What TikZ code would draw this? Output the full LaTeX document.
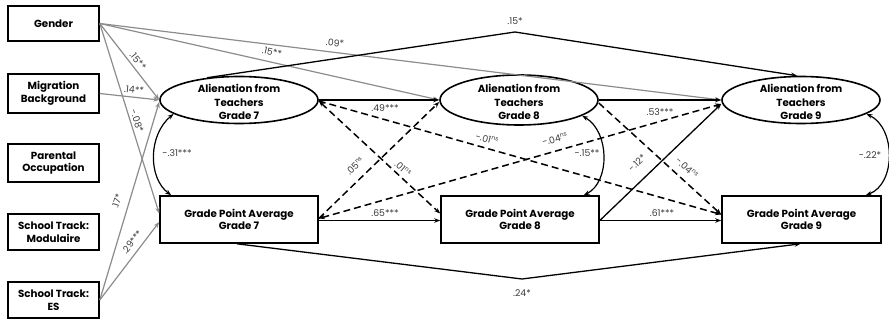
\documentclass[tikz,border=0pt]{standalone}
\usepackage{fontspec}
\setmainfont{Poppins}
\usetikzlibrary{arrows.meta,calc,shapes.geometric}
\definecolor{covgray}{HTML}{8C8C8C}
\definecolor{labgray}{HTML}{3A3A3A}
\tikzset{
  box/.style={draw, line width=1.6pt, fill=white, inner sep=1pt, align=center,
    font=\bfseries\fontsize{10.3}{12.8}\selectfont},
  gpabox/.style={box, minimum width=158pt, minimum height=47pt},
  lvbox/.style={draw, line width=1.6pt, fill=white, ellipse, inner sep=0pt,
    minimum width=158pt, minimum height=47pt},
  lvtext/.style={align=center, inner sep=0pt, font=\bfseries\fontsize{10.3}{13.5}\selectfont},
  arr/.style={-{Stealth[length=6pt,width=4.5pt]}},
  grayline/.style={arr, draw=covgray, line width=1.2pt},
  solidline/.style={arr, draw=black, line width=1.3pt},
  dashline/.style={arr, draw=black, line width=1.5pt, dash pattern=on 7pt off 4pt},
  dashboth/.style={dashline, {Stealth[length=6pt,width=4.5pt]}-{Stealth[length=6pt,width=4.5pt]}},
  covline/.style={{Stealth[length=6pt,width=4.5pt]}-{Stealth[length=6pt,width=4.5pt]}, draw=black, line width=1.2pt},
  lab/.style={text=labgray, inner sep=0.3pt, font=\fontsize{9.3}{9.5}\selectfont},
}
\newcommand{\nsx}{\textsuperscript{\fontsize{6}{6}\selectfont ns}}
\begin{document}
\begin{tikzpicture}[x=1pt,y=-1pt]
\useasboundingbox (0,0) rectangle (889,323);
% covariate boxes
\node[box, minimum width=91pt, minimum height=35pt] (gender) at (53.5,23.5) {Gender};
\node[box, minimum width=91pt, minimum height=39pt] (migr) at (53.5,93.5) {Migration\\Background};
\node[box, minimum width=91pt, minimum height=38pt] (parent) at (53.5,163) {Parental\\Occupation};
\node[box, minimum width=91pt, minimum height=36pt] (modul) at (53.5,232) {School Track:\\Modulaire};
\node[box, minimum width=91pt, minimum height=36pt] (es) at (53.5,300) {School Track:\\ES};
% latent alienation
\node[lvbox] (a7) at (239,100) {};
\node[lvbox, minimum height=50pt] (a8) at (519,100) {};
\node[lvbox] (a9) at (801,100) {};
\node[lvtext] (ta7) at (239,102) {Alienation from\\Teachers\\Grade 7};
\node[lvtext] (ta8) at (519,102) {Alienation from\\Teachers\\Grade 8};
\node[lvtext] (ta9) at (801,102) {Alienation from\\Teachers\\Grade 9};
% GPA boxes
\node[gpabox] (g7) at (239,219.5) {Grade Point Average\\Grade 7};
\node[gpabox] (g8) at (520,219.5) {Grade Point Average\\Grade 8};
\node[gpabox, minimum width=159pt] (g9) at (801.5,219.5) {Grade Point Average\\Grade 9};
% apex coordinates
\coordinate (ap1) at (515,32);
\coordinate (ap2) at (522,279);
% gray covariate paths
\draw[grayline] (gender.east) -- (a7.west);
\draw[grayline] (gender.east) -- ($(g7.west)+(0,-6)$);
\draw[grayline] (gender.east) -- (a8.west);
\draw[grayline] (gender.east) -- (a9.west);
\draw[grayline] (migr.east) -- (a7.west);
\draw[grayline] (es.east) -- ($(a7.west)+(0,2)$);
\draw[grayline] (es.east) -- ($(g7.west)+(0,2.5)$);
% autoregressive
\draw[solidline] (a7.east) -- (a8.west);
\draw[solidline] (a8.east) -- (a9.west);
\draw[solidline] ($(g7.east)+(0,1)$) -- ($(g8.west)+(0,1)$);
\draw[solidline] ($(g8.east)+(0,1)$) -- ($(g9.west)+(0,1)$);
\draw[solidline] (a7.145) -- (ap1) -- ($(a9.north)+(-4,0)$);
\draw[solidline] ($(g7.south)+(-2,0)$) -- (ap2) -- ($(g9.south)+(-1,0)$);
\draw[solidline] ($(g8.east)+(0,1)$) -- ($(a9.west)+(0,4)$);
% cross-lagged dashed
\draw[dashboth] ($(a7.east)+(0,1)$) -- ($(g8.west)+(0,-6)$);
\draw[dashline] ($(g7.east)+(0,-1)$) -- ($(a8.west)+(0,2)$);
\draw[dashline] ($(a7.east)+(0,1)$) -- ($(g9.west)+(0,-5)$);
\draw[dashboth] ($(g7.east)+(0,-1)$) -- ($(a9.west)+(0,4)$);
\draw[dashline] ($(a8.east)+(0,3)$) -- ($(g9.west)+(0,-5)$);
% covariances
\draw[covline] (a7.192) .. controls (148,135) and (148,178) .. ($(g7.north west)+(12,0)$);
\draw[covline] (a8.-14) .. controls (610,132) and (610,182) .. ($(g8.north east)+(-16,0)$);
\draw[covline] (a9.-12) .. controls (896,128) and (896,184) .. ($(g9.north east)+(-16,0)$);
% labels
\node[lab, rotate=-51] (l1) at (138,61) {.15**};
\node[lab, rotate=-6] (l2) at (134,90) {.14**};
\node[lab, rotate=-72] (l3) at (137,121) {-.08*};
\node[lab, rotate=73] (l4) at (117,201) {.17*};
\node[lab, rotate=52] (l5) at (132,242) {.29***};
\node[lab, rotate=-12.4] (l6) at (272,52) {.15**};
\node[lab, rotate=-7] (l7) at (335,43) {.09*};
\node[lab] (l8) at (515,21) {.15*};
\node[lab] (l9) at (522,293) {.24*};
\node[lab] (l10) at (385,108) {.49***};
\node[lab] (l11) at (660,112) {.53***};
\node[lab] (l12) at (385,213) {.65***};
\node[lab] (l13) at (662,213) {.61***};
\node[lab, rotate=44] (l14) at (637,163) {-.12*};
\node[lab, rotate=-42] (l15) at (403,169) {.01\nsx};
\node[lab, rotate=43.5] (l16) at (355,166) {.05\nsx};
\node[lab, rotate=-15.8] (l17) at (487,139) {-.01\nsx};
\node[lab, rotate=15.7] (l18) at (555,139) {-.04\nsx};
\node[lab, rotate=-42] (l19) at (687,168) {-.04\nsx};
\node[lab] (l20) at (177,153) {-.31***};
\node[lab] (l21) at (587,153) {-.15**};
\node[lab] (l22) at (870,155) {-.22*};
\end{tikzpicture}
\end{document}
